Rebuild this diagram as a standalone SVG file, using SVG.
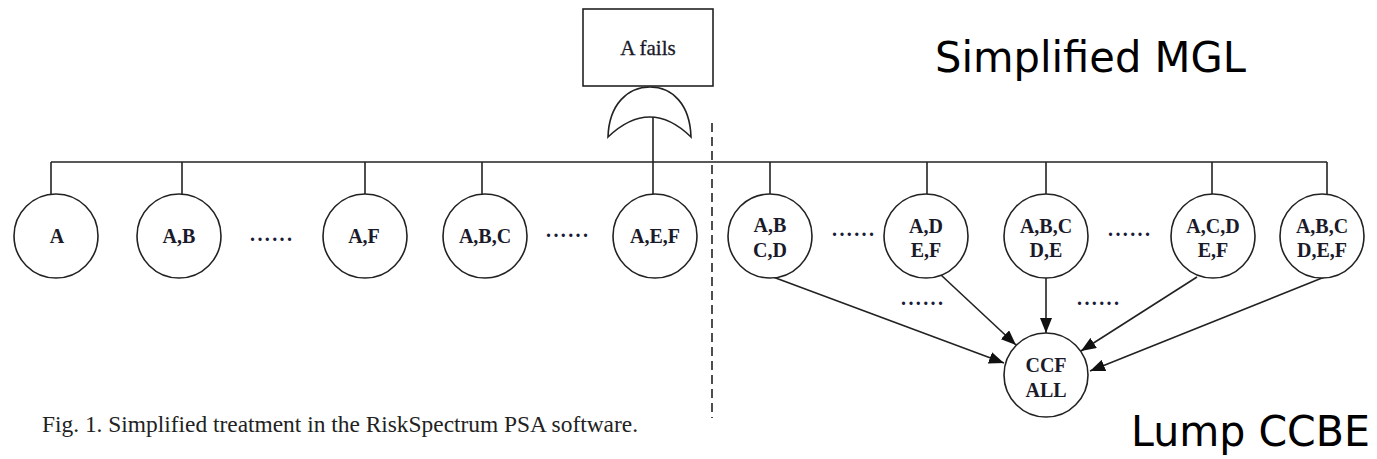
<svg xmlns="http://www.w3.org/2000/svg" width="1377" height="459" viewBox="0 0 1377 459">
  <style>
    .ln { stroke: #222; stroke-width: 1.6; fill: none; }
    .node { stroke: #222; stroke-width: 1.6; fill: #fff; }
    .lbl { font-family: "Liberation Serif", "Times New Roman", serif; font-weight: bold; font-size: 20px; fill: #1a1a2a; text-anchor: middle; }
    .dots { font-family: "Liberation Serif", "Times New Roman", serif; font-weight: bold; font-size: 20px; fill: #1a1a3a; }
    .big { font-family: "DejaVu Sans", "Verdana", sans-serif; font-size: 42px; fill: #000; }
    .cap { font-family: "Liberation Serif", "Times New Roman", serif; font-size: 23px; fill: #222; }
  </style>
  <defs>
    <marker id="arrow" markerUnits="userSpaceOnUse" markerWidth="16" markerHeight="12" viewBox="0 0 16 12" refX="15" refY="6" orient="auto">
      <path d="M0,0 L15,6 L0,12 Z" fill="#111"/>
    </marker>
  </defs>

  <!-- top event and OR gate -->
  <g id="top-event">
    <rect x="583" y="9" width="130" height="77" class="node"/>
    <text x="648" y="55" class="lbl" style="font-weight:normal;font-size:21px;stroke:#1a1a2a;stroke-width:0.3">A fails</text>
  </g>
  <g id="or-gate">
    <path class="ln" d="M608,137 C609,104 628,87 650,87 C672,87 690,104 691,137 Q650,97 608,137 Z"/>
  </g>

  <!-- tree branches, separator and arrows -->
  <g id="connectors">
    <line class="ln" x1="653" y1="117" x2="653" y2="195"/>
    <line class="ln" x1="51" y1="162" x2="1327" y2="162"/>
    <line class="ln" x1="51" y1="162" x2="51" y2="195"/>
    <line class="ln" x1="182" y1="162" x2="182" y2="194"/>
    <line class="ln" x1="365" y1="162" x2="365" y2="194"/>
    <line class="ln" x1="482" y1="162" x2="482" y2="194"/>
    <line class="ln" x1="770" y1="162" x2="770" y2="194"/>
    <line class="ln" x1="927" y1="162" x2="927" y2="194"/>
    <line class="ln" x1="1046" y1="162" x2="1046" y2="194"/>
    <line class="ln" x1="1212" y1="162" x2="1212" y2="194"/>
    <line class="ln" x1="1327" y1="162" x2="1327" y2="195"/>
    <line class="ln" x1="712" y1="123" x2="712" y2="418" stroke-dasharray="9,5"/>
    <line class="ln" x1="773" y1="277" x2="1004" y2="363" marker-end="url(#arrow)"/>
    <line class="ln" x1="941" y1="275" x2="1016" y2="345" marker-end="url(#arrow)"/>
    <line class="ln" x1="1046" y1="278" x2="1046" y2="333" marker-end="url(#arrow)"/>
    <line class="ln" x1="1197" y1="277" x2="1081" y2="351" marker-end="url(#arrow)"/>
    <line class="ln" x1="1327" y1="276" x2="1090" y2="371" marker-end="url(#arrow)"/>
  </g>

  <!-- basic events -->
  <g id="n-a"><circle cx="56" cy="236" r="42" class="node"/><text x="57" y="243" class="lbl">A</text></g>
  <g id="n-ab"><circle cx="179" cy="236" r="42" class="node"/><text x="179" y="243" class="lbl">A,B</text></g>
  <g id="n-af"><circle cx="365" cy="236" r="42" class="node"/><text x="364" y="243" class="lbl">A,F</text></g>
  <g id="n-abc"><circle cx="485" cy="236" r="42" class="node"/><text x="485" y="243" class="lbl">A,B,C</text></g>
  <g id="n-aef"><circle cx="655" cy="236" r="42" class="node"/><text x="655" y="243" class="lbl">A,E,F</text></g>
  <g id="n-abcd"><circle cx="770" cy="236" r="42" class="node"/><text x="770" y="232" class="lbl">A,B</text><text x="770" y="257" class="lbl">C,D</text></g>
  <g id="n-adef"><circle cx="926" cy="236" r="42" class="node"/><text x="926" y="233" class="lbl">A,D</text><text x="926" y="257" class="lbl">E,F</text></g>
  <g id="n-abcde"><circle cx="1046" cy="236" r="42" class="node"/><text x="1046" y="233" class="lbl">A,B,C</text><text x="1046" y="257" class="lbl">D,E</text></g>
  <g id="n-acdef"><circle cx="1213" cy="236" r="42" class="node"/><text x="1213" y="233" class="lbl">A,C,D</text><text x="1213" y="257" class="lbl">E,F</text></g>
  <g id="n-abcdef"><circle cx="1322" cy="236" r="42" class="node"/><text x="1322" y="233" class="lbl">A,B,C</text><text x="1322" y="257" class="lbl">D,E,F</text></g>
  <g id="n-ccf"><circle cx="1046" cy="375" r="42" class="node"/><text x="1046" y="372" class="lbl">CCF</text><text x="1046" y="397" class="lbl">ALL</text></g>

  <!-- ellipsis marks -->
  <g id="ellipses">
    <text x="250" y="241" class="dots" textLength="42" lengthAdjust="spacing">......</text>
    <text x="546" y="237" class="dots" textLength="42" lengthAdjust="spacing">......</text>
    <text x="832" y="236" class="dots" textLength="42" lengthAdjust="spacing">......</text>
    <text x="1108" y="236" class="dots" textLength="42" lengthAdjust="spacing">......</text>
    <text x="901" y="305" class="dots" textLength="42" lengthAdjust="spacing">......</text>
    <text x="1077" y="305" class="dots" textLength="42" lengthAdjust="spacing">......</text>
  </g>

  <!-- annotations -->
  <g id="annotations">
    <text x="935" y="72" class="big" textLength="311" lengthAdjust="spacingAndGlyphs">Simplified MGL</text>
    <text x="1131" y="446" class="big" textLength="239" lengthAdjust="spacingAndGlyphs">Lump CCBE</text>
    <text x="42" y="432" class="cap" textLength="596" lengthAdjust="spacingAndGlyphs">Fig. 1. Simplified treatment in the RiskSpectrum PSA software.</text>
  </g>
</svg>
